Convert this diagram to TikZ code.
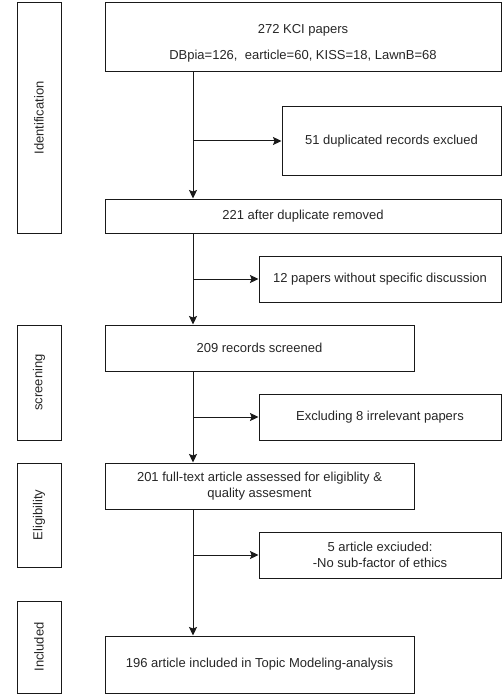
\documentclass[tikz,border=0pt]{standalone}
\usepackage{fontspec}
\setmainfont{Liberation Sans}
\usetikzlibrary{arrows.meta}
\begin{document}
\begin{tikzpicture}[x=1pt,y=-1pt,
  box/.style={draw=black!90, line width=1pt, rectangle, inner sep=0pt, align=center,
    text=black!85, font=\fontsize{13}{16.5}\selectfont},
  side/.style={box, rotate=90},
  lbl/.style={inner sep=0pt, align=center, text=black!85, font=\fontsize{13}{16.5}\selectfont},
  arr/.style={draw=black!90, line width=1pt, -{Stealth[length=8.5pt,width=8pt,inset=1.5pt]}}]
\useasboundingbox (0,0) rectangle (502,695);
% side labels
\node[side, minimum width=230pt, minimum height=44pt] (id) at (39,118) {Identification};
\node[side, minimum width=115pt, minimum height=44pt] (scr) at (39,382.5) {screening};
\node[side, minimum width=104pt, minimum height=44pt] (elig) at (39,515) {Eligibility};
\node[side, minimum width=92pt, minimum height=44pt] (incl) at (39,647) {Included};
% main boxes
\node[box, minimum width=396pt, minimum height=69pt] (n1) at (303,37.5) {};
\node[lbl] (n1t) at (303,43) {272 KCI papers\\[9.5pt]DBpia=126,\ \ earticle=60, KISS=18, LawnB=68};
\node[box, minimum width=219pt, minimum height=68pt] (n51) at (391.5,141) {51 duplicated records exclued};
\node[box, minimum width=396pt, minimum height=34pt] (n221) at (303,216) {221 after duplicate removed};
\node[box, minimum width=242pt, minimum height=46pt] (n12) at (380,279) {12 papers without specific discussion};
\node[box, minimum width=309pt, minimum height=46pt] (n209) at (259.5,348) {209 records screened};
\node[box, minimum width=242pt, minimum height=46pt] (nex) at (380,417) {Excluding 8 irrelevant papers};
\node[box, minimum width=309pt, minimum height=46pt] (n201) at (259.5,486) {201 full-text article assessed for eligiblity \&\\quality assesment};
\node[box, minimum width=242pt, minimum height=46pt] (n5) at (380,555) {5 article exciuded:\\-No sub-factor of ethics};
\node[box, minimum width=309pt, minimum height=57pt] (n196) at (259.5,664.5) {196 article included in Topic Modeling-analysis};
% spine
\coordinate (sp) at (193,0);
\draw[arr] (sp |- n1.south) -- (sp |- n221.north);
\draw[arr] (sp |- n51.west) -- (n51.west);
\draw[arr] (sp |- n221.south) -- (sp |- n209.north);
\draw[arr] (sp |- n12.west) -- (n12.west);
\draw[arr] (sp |- n209.south) -- (sp |- n201.north);
\draw[arr] (sp |- nex.west) -- (nex.west);
\draw[arr] (sp |- n201.south) -- (sp |- n196.north);
\draw[arr] (sp |- n5.west) -- (n5.west);
\end{tikzpicture}
\end{document}
